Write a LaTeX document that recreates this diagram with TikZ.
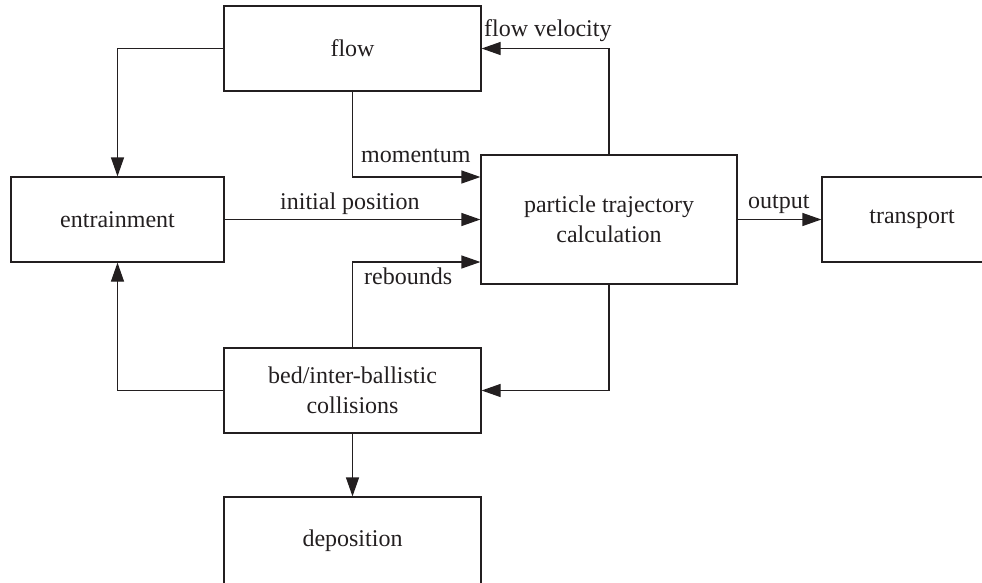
\documentclass[tikz,border=0pt]{standalone}
\usepackage{fontspec}
\setmainfont{Liberation Serif}
\usetikzlibrary{arrows.meta}
\definecolor{ink}{RGB}{35,31,32}
\begin{document}
\begin{tikzpicture}[x=1pt,y=-1pt,
  box/.style={draw=ink, line width=1.2pt, rectangle, inner sep=0pt, align=center,
    font=\fontsize{24}{29.5}\selectfont, text=ink},
  conn/.style={draw=ink, line width=1.2pt, -{Triangle[length=19pt,width=13pt]}},
  lbl/.style={inner sep=0pt, font=\fontsize{24}{29}\selectfont, text=ink, anchor=base west}]
\useasboundingbox (0,0) rectangle (982,582);
\clip (0,0) rectangle (982,582);
\node[box, minimum width=257pt, minimum height=85pt] (flow) at (352.5,48.5) {flow};
\node[box, minimum width=213pt, minimum height=85pt] (entr) at (117.5,219.5) {entrainment};
\node[box, minimum width=256pt, minimum height=129pt] (part) at (609,219.5) {particle trajectory\\calculation};
\node[box, minimum width=180pt, minimum height=85pt] (trans) at (912,219.5) {transport};
\node[box, minimum width=257pt, minimum height=85pt] (bed) at (352.5,390.5) {bed/inter-ballistic\\collisions};
\node[box, minimum width=257pt, minimum height=88pt] (dep) at (352.5,541) {deposition};
\coordinate (pm) at ([yshift=42.5pt]part.west);
\coordinate (pr) at ([yshift=-42.5pt]part.west);
\draw[conn] (flow.west) -| (entr.north);
\draw[conn] (flow.south) |- (pm);
\draw[conn] (entr.east) -- (part.west);
\draw[conn] (bed.north) |- (pr);
\draw[conn] (part.north) |- (flow.east);
\draw[conn] (part.east) -- (trans.west);
\draw[conn] (part.south) |- (bed.east);
\draw[conn] (bed.west) -| (entr.south);
\draw[conn] (bed.south) -- (dep.north);
\node[lbl] (lmom) at (361,162) {momentum};
\node[lbl] (lini) at (280,209) {initial position};
\node[lbl] (lreb) at (364,284) {rebounds};
\node[lbl] (lvel) at (484,36) {flow velocity};
\node[lbl] (lout) at (748,208) {output};
\end{tikzpicture}
\end{document}
